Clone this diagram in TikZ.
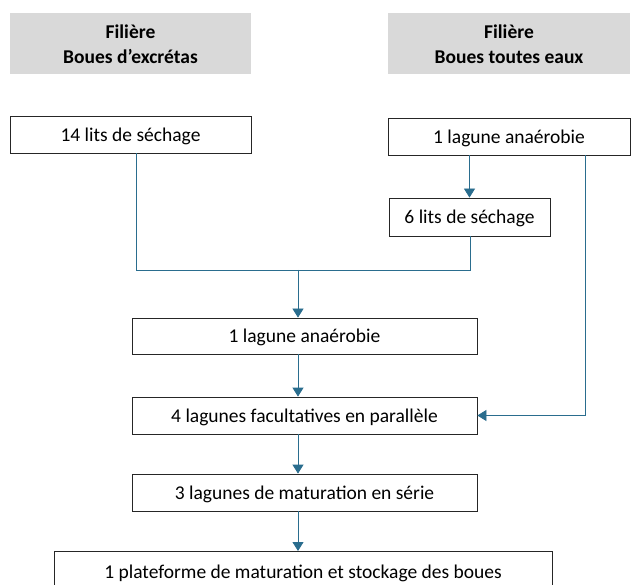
\documentclass[tikz,border=0pt]{standalone}
\usepackage{fontspec}
\setmainfont{Carlito}
\usetikzlibrary{arrows.meta}
\definecolor{conn}{HTML}{2A6D8E}
\definecolor{hdr}{HTML}{D9D9D9}
\begin{document}
\begin{tikzpicture}[x=1pt,y=-1pt,
  hdrbox/.style={fill=hdr,draw=none,align=center,font=\fontsize{19.5}{24.5}\selectfont\bfseries,inner sep=0pt},
  stepbox/.style={draw=black!85,line width=0.8pt,fill=white,font=\fontsize{19.5}{22}\selectfont,inner sep=0pt,text height=16.5pt,text depth=3pt},
  link/.style={draw=conn,line width=0.8pt},
  arr/.style={link,-{Triangle[length=9pt,width=11pt]}}]
\useasboundingbox (0,0) rectangle (632,585);
\fill[white] (0,0) rectangle (632,585);
\node[hdrbox,minimum width=241pt,minimum height=61pt] (h1) at (130.5,44) {Filière\\Boues d’excrétas};
\node[hdrbox,minimum width=242pt,minimum height=61pt] (h2) at (509,44) {Filière\\Boues toutes eaux};
\node[stepbox,minimum width=241pt,minimum height=37pt] (a) at (130.5,134.5) {14 lits de séchage};
\node[stepbox,minimum width=242pt,minimum height=37pt] (b) at (509,136.5) {1 lagune anaérobie};
\node[stepbox,minimum width=161pt,minimum height=38pt] (c) at (469.5,217) {6 lits de séchage};
\node[stepbox,minimum width=345pt,minimum height=36pt] (d) at (304.5,336) {1 lagune anaérobie};
\node[stepbox,minimum width=345pt,minimum height=37pt] (e) at (304.5,415.5) {4 lagunes facultatives en parallèle};
\node[stepbox,minimum width=345pt,minimum height=37pt] (f) at (304.5,492.5) {3 lagunes de maturation en série};
\node[stepbox,minimum width=498pt,minimum height=44pt,anchor=north] (g) at (303,551) {};
\node[font=\fontsize{19.5}{22}\selectfont,inner sep=0pt,text height=16.5pt,text depth=3pt] (gt) at (303,572) {1 plateforme de maturation et stockage des boues};
\coordinate (j1) at (136,270);
\coordinate (j2) at (470,270);
\coordinate (jm) at (298,270);
\coordinate (r1) at (585,415.5);
\draw[link] (a.south -| j1) -- (j1) -- (j2) -- (c.south -| j2);
\draw[arr] (b.south -| c.north) -- (c.north);
\draw[arr] (jm) -- (d.north -| jm);
\draw[arr] (d.south -| jm) -- (e.north -| jm);
\draw[arr] (e.south -| jm) -- (f.north -| jm);
\draw[arr] (f.south -| jm) -- (g.north -| jm);
\draw[arr] (b.south -| r1) -- (r1) -- (e.east);
\end{tikzpicture}
\end{document}
